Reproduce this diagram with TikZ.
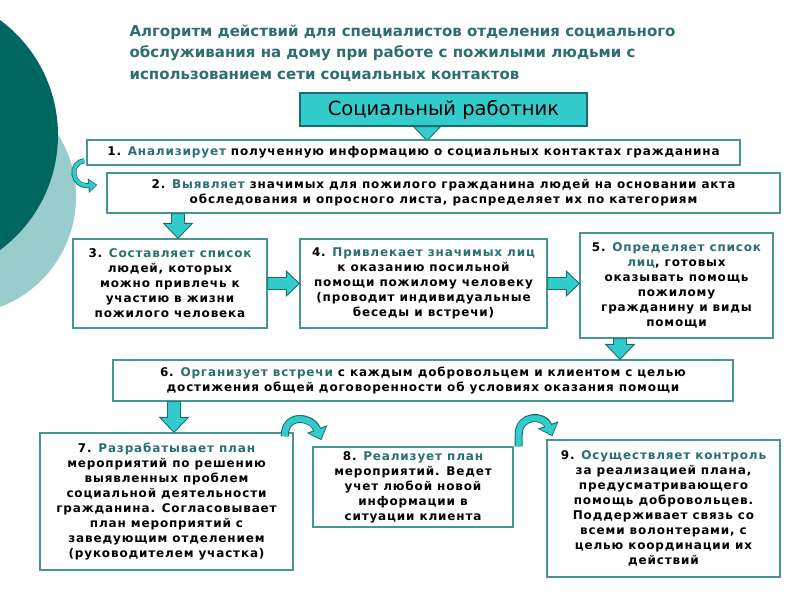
\documentclass[tikz,border=0pt]{standalone}
\usepackage{fontspec}
\setmainfont{DejaVu Sans}
\newfontfamily\boxfamily[LetterSpace=7]{DejaVu Sans}
\usetikzlibrary{arrows.meta,calc}

\definecolor{darkcirc}{RGB}{0,102,96}
\definecolor{lightcirc}{RGB}{153,204,204}
\definecolor{arrowfill}{RGB}{51,204,204}
\definecolor{arrowedge}{RGB}{30,107,107}
\definecolor{boxline}{RGB}{70,150,150}
\definecolor{acttext}{RGB}{41,112,112}
\definecolor{titlecol}{RGB}{47,110,110}

\newcommand{\boxfont}{\boxfamily\bfseries\fontsize{12}{15}\selectfont}
\newcommand{\titlefont}{\bfseries\fontsize{15}{21.5}\selectfont}
\newcommand{\act}[1]{\textcolor{acttext}{#1}}

\tikzstyle{stepbox} = [draw=boxline, line width=1.4pt, fill=white, rectangle,
    align=center, font=\boxfont, inner sep=2pt]
\tikzstyle{headbox} = [draw=arrowedge, line width=1.2pt, fill=arrowfill, rectangle,
    font=\fontsize{19.5}{21}\selectfont]
\tikzstyle{blockarrow} = [draw=arrowedge, line width=0.9pt, fill=arrowfill, line join=miter]
\tikzstyle{bendarrow} = [draw=arrowedge, line width=8pt, -{Triangle[width=21pt,length=12pt]},
    postaction={draw=arrowfill, line width=6pt, -{Triangle[width=17pt,length=9.5pt]}, shorten >=1.4pt}]
\tikzstyle{smallbend} = [draw=arrowedge, line width=5pt, -{Triangle[width=14pt,length=9pt]},
    postaction={draw=arrowfill, line width=3.4pt, -{Triangle[width=10.5pt,length=6.8pt]}, shorten >=1.2pt}]

% vertical block arrow, from #1 down to #2
\newcommand{\vblock}[2]{%
  \draw[blockarrow] let \p1=(#1), \p2=(#2) in
    (\x1-6.5pt,\y1) -- (\x1-6.5pt,\y2+15pt) -- (\x1-14.5pt,\y2+15pt) -- (\x1,\y2)
    -- (\x1+14.5pt,\y2+15pt) -- (\x1+6.5pt,\y2+15pt) -- (\x1+6.5pt,\y1) -- cycle;}
% horizontal block arrow, from #1 right to #2
\newcommand{\hblock}[2]{%
  \draw[blockarrow] let \p1=(#1), \p2=(#2) in
    (\x1,\y1+6pt) -- (\x2-13pt,\y1+6pt) -- (\x2-13pt,\y1+12.5pt) -- (\x2,\y1)
    -- (\x2-13pt,\y1-12.5pt) -- (\x2-13pt,\y1-6pt) -- (\x1,\y1-6pt) -- cycle;}

\begin{document}
\begin{tikzpicture}[x=1pt,y=-1pt]
\useasboundingbox (0,0) rectangle (800,600);
\clip (0,0) rectangle (800,600);

% background
\fill[lightcirc] (-41.6,197) circle [radius=117.6pt];
\fill[darkcirc] (-85,135) circle [radius=143pt];

\coordinate (H) at (443.5,109.5);
\coordinate (C1) at (413.5,152.5);
\coordinate (C2) at (443.5,193);
\coordinate (C3) at (170,283.5);
\coordinate (C4) at (423.5,283.5);
\coordinate (C5) at (676.5,285.5);
\coordinate (C6) at (423,380.5);
\coordinate (C7) at (166.5,501.5);
\coordinate (C8) at (413,487);
\coordinate (C9) at (663.5,508.5);

\coordinate (X23) at (178,0);
\coordinate (X56) at (620,0);
\coordinate (X67) at (174,0);

\node[anchor=north west, align=left, font=\titlefont, text=titlecol] (title) at (126,21)
  {Алгоритм действий для специалистов отделения социального\\
   обслуживания на дому при работе с пожилыми людьми с\\
   использованием сети социальных контактов};

\coordinate (LL) at (120,133);
\coordinate (LR) at (760,133);
\draw[draw=black!70, double=white, double distance=1.6pt, line width=0.6pt] (LL) -- (LR);

\node[headbox, minimum width=287pt, minimum height=33pt] (head) at (H) {Социальный работник};
\draw[blockarrow] ($(head.south)+(-30,0)$) -- ($(head.south)+(-3,0)$)
  -- ($(head.south)+(-16.5,14)$) -- cycle;

\node[stepbox, minimum width=653pt, minimum height=25pt] (s1) at (C1)
  {1. \act{Анализирует} полученную информацию о социальных контактах гражданина};
\node[stepbox, minimum width=673pt, minimum height=40pt] (s2) at (C2)
  {2. \act{Выявляет} значимых для пожилого гражданина людей на основании акта\\
   обследования и опросного листа, распределяет их по категориям};
\node[stepbox, minimum width=194pt, minimum height=89pt] (s3) at (C3)
  {3. \act{Составляет список}\\людей, которых\\можно привлечь к\\участию в жизни\\пожилого человека};
\node[stepbox, minimum width=247pt, minimum height=89pt] (s4) at (C4)
  {4. \act{Привлекает значимых лиц}\\к оказанию посильной\\помощи пожилому человеку\\(проводит индивидуальные\\беседы и встречи)};
\node[stepbox, minimum width=193pt, minimum height=105pt] (s5) at (C5)
  {5. \act{Определяет список}\\\act{лиц}, готовых\\оказывать помощь\\пожилому\\гражданину и виды\\помощи};
\node[stepbox, minimum width=620pt, minimum height=41pt] (s6) at (C6)
  {6. \act{Организует встречи} с каждым добровольцем и клиентом с целью\\
   достижения общей договоренности об условиях оказания помощи};
\node[stepbox, minimum width=253pt, minimum height=137pt] (s7) at (C7)
  {7. \act{Разрабатывает план}\\мероприятий по решению\\выявленных проблем\\социальной деятельности\\гражданина. Согласовывает\\план мероприятий с\\заведующим отделением\\(руководителем участка)};
\node[stepbox, minimum width=200pt, minimum height=80pt] (s8) at (C8)
  {8. \act{Реализует план}\\мероприятий. Ведет\\учет любой новой\\информации в\\ситуации клиента};
\node[stepbox, minimum width=233pt, minimum height=137pt] (s9) at (C9)
  {9. \act{Осуществляет контроль}\\за реализацией плана,\\предусматривающего\\помощь добровольцев.\\Поддерживает связь со\\всеми волонтерами, с\\целью координации их\\действий};

% connectors
\coordinate (a1) at ([xshift=-2pt,yshift=5pt]s1.south west);
\coordinate (a2) at ([xshift=-9pt,yshift=8pt]s2.west);
\draw[smallbend] (a1) .. controls ($(a1)+(-16,2)$) and ($(a2)+(-26,2)$) .. (a2);

\vblock{s2.south -| X23}{s3.north -| X23}
\hblock{s3.east}{s4.west}
\hblock{s4.east}{s5.west}
\vblock{s5.south -| X56}{s6.north -| X56}
\vblock{s6.south -| X67}{s7.north -| X67}

\coordinate (a7) at ([xshift=-9pt,yshift=-4pt]s7.north east);
\coordinate (a8) at ([xshift=9pt,yshift=6pt]s8.north west);
\draw[bendarrow] (a7) .. controls ($(a7)+(0,-24)$) and ($(a8)+(-9,-24)$) .. (a8);

\coordinate (b8) at ([xshift=5pt]s8.north east);
\coordinate (b9) at ([xshift=6pt,yshift=3pt]s9.north west);
\draw[bendarrow] (b8) -- ($(b8)+(0,-12)$) .. controls ($(b8)+(0,-32)$) and ($(b9)+(-8,-22)$) .. (b9);
\end{tikzpicture}
\end{document}
